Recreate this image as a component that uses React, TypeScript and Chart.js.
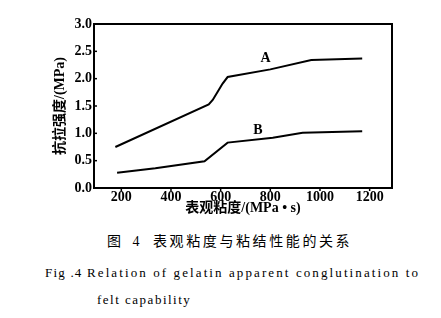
import React, { useEffect, useRef } from "react";
import { Chart, registerables } from "chart.js";

Chart.register(...registerables);

// ---- data ----
const seriesNames = ["A", "B"];
const seriesAX = [176, 552, 568, 588, 608, 628, 800, 965, 1170];
const seriesAY = [0.75, 1.53, 1.61, 1.76, 1.91, 2.03, 2.17, 2.34, 2.37];
const seriesBX = [183, 337, 535, 628, 810, 930, 1170];
const seriesBY = [0.28, 0.36, 0.49, 0.83, 0.92, 1.01, 1.04];
// where the series names are written (data units)
const nameLabelX = [781, 750];
const nameLabelY = [2.37, 1.05];

const xTickValues = [200, 400, 600, 800, 1000, 1200];
const yTickValues = [0, 0.5, 1.0, 1.5, 2.0, 2.5, 3.0];
const xMin = 90;
const xMax = 1290;
const yMin = 0;
const yMax = 3;

const xTitle = "表观粘度/(MPa • s)";
const yTitle = "抗拉强度/(MPa)";
const captionCnNum = "图 4";
const captionCn = "表观粘度与粘结性能的关系";
const captionEnNum = "Fig .4";
const captionEn1 = "Relation of gelatin apparent conglutination to";
const captionEn2 = "felt capability";

const SERIF = "'Liberation Serif', 'Noto Sans CJK SC', serif";

const framePlugin = {
  id: "frameAndNames",
  afterDatasetsDraw(chart: any) {
    const { ctx, chartArea, scales } = chart;
    const { left, right, top, bottom } = chartArea;
    ctx.save();
    ctx.strokeStyle = "#000";
    ctx.lineWidth = 2;
    ctx.strokeRect(left, top, right - left, bottom - top);
    ctx.lineWidth = 1.5;
    // y ticks pointing inwards
    yTickValues.forEach((v) => {
      const y = scales.y.getPixelForValue(v);
      ctx.beginPath();
      ctx.moveTo(left, y);
      ctx.lineTo(left + 3, y);
      ctx.stroke();
    });
    // x ticks pointing down
    xTickValues.forEach((v) => {
      const x = scales.x.getPixelForValue(v);
      ctx.beginPath();
      ctx.moveTo(x, bottom);
      ctx.lineTo(x, bottom + 3);
      ctx.stroke();
    });
    // series names
    ctx.fillStyle = "#000";
    ctx.font = `bold 14px ${SERIF}`;
    ctx.textAlign = "center";
    ctx.textBaseline = "middle";
    seriesNames.forEach((n, i) => {
      ctx.fillText(
        n,
        scales.x.getPixelForValue(nameLabelX[i]),
        scales.y.getPixelForValue(nameLabelY[i])
      );
    });
    ctx.restore();
  },
};

function ChartCanvas() {
  const ref = useRef<HTMLCanvasElement | null>(null);
  useEffect(() => {
    if (!ref.current) return;
    const toPts = (xs: number[], ys: number[]) => xs.map((x, i) => ({ x, y: ys[i] }));
    const chart = new Chart(ref.current, {
      type: "line",
      data: {
        datasets: [
          {
            label: seriesNames[0],
            data: toPts(seriesAX, seriesAY),
            borderColor: "#000",
            borderWidth: 2,
            pointRadius: 0,
            tension: 0,
          },
          {
            label: seriesNames[1],
            data: toPts(seriesBX, seriesBY),
            borderColor: "#000",
            borderWidth: 2,
            pointRadius: 0,
            tension: 0,
          },
        ],
      },
      options: {
        responsive: false,
        animation: false,
        devicePixelRatio: 1,
        layout: { padding: { left: 52, top: 24, right: 49, bottom: 8.6 } },
        plugins: {
          legend: { display: false },
          tooltip: { enabled: false },
          title: { display: false },
        },
        scales: {
          x: {
            type: "linear",
            min: xMin,
            max: xMax,
            grid: { display: false, drawTicks: false },
            border: { display: false },
            afterBuildTicks: (s: any) => {
              s.ticks = xTickValues.map((v) => ({ value: v }));
            },
            afterFit: (s: any) => {
              s.height = 28.4;
            },
            ticks: {
              padding: 1,
              color: "#000",
              maxRotation: 0,
              autoSkip: false,
              font: { family: SERIF, weight: "bold", size: 14 },
              callback: (v: any) => String(v),
            },
            title: {
              display: true,
              text: xTitle,
              color: "#000",
              padding: 0,
              font: { family: SERIF, weight: "bold", size: 14 },
            },
          },
          y: {
            type: "linear",
            min: yMin,
            max: yMax,
            grid: { display: false, drawTicks: false },
            border: { display: false },
            afterBuildTicks: (s: any) => {
              s.ticks = yTickValues.map((v) => ({ value: v }));
            },
            afterFit: (s: any) => {
              s.width = 42;
            },
            ticks: {
              padding: 2,
              color: "#000",
              autoSkip: false,
              font: { family: SERIF, weight: "bold", size: 14 },
              callback: (v: any) => Number(v).toFixed(1),
            },
            title: {
              display: true,
              text: yTitle,
              color: "#000",
              padding: 0,
              font: { family: SERIF, weight: "bold", size: 14 },
            },
          },
        },
      },
      plugins: [framePlugin],
    } as any);
    return () => chart.destroy();
  }, []);
  return (
    <canvas
      ref={ref}
      width={441}
      height={225}
      style={{ position: "absolute", left: 0, top: 0, width: 441, height: 225 }}
    />
  );
}

const capStyle: React.CSSProperties = {
  position: "absolute",
  fontFamily: SERIF,
  fontSize: 14,
  lineHeight: "16px",
  color: "#000",
  whiteSpace: "pre",
};

export default function App() {
  return (
    <div
      style={{
        position: "absolute",
        left: 0,
        top: 0,
        width: 441,
        height: 318,
        background: "#fff",
        overflow: "hidden",
      }}
    >
      <ChartCanvas />
      <span style={{ ...capStyle, left: 107, top: 234, letterSpacing: 4 }}>{captionCnNum}</span>
      <span style={{ ...capStyle, left: 153, top: 234, letterSpacing: 2.6 }}>{captionCn}</span>
      <span style={{ ...capStyle, left: 45, top: 265, fontSize: 13, letterSpacing: 1.2 }}>
        {captionEnNum}
      </span>
      <span style={{ ...capStyle, left: 87, top: 265, fontSize: 13, letterSpacing: 2.1 }}>
        {captionEn1}
      </span>
      <span style={{ ...capStyle, left: 97, top: 292, fontSize: 13, letterSpacing: 1.5 }}>
        {captionEn2}
      </span>
    </div>
  );
}
